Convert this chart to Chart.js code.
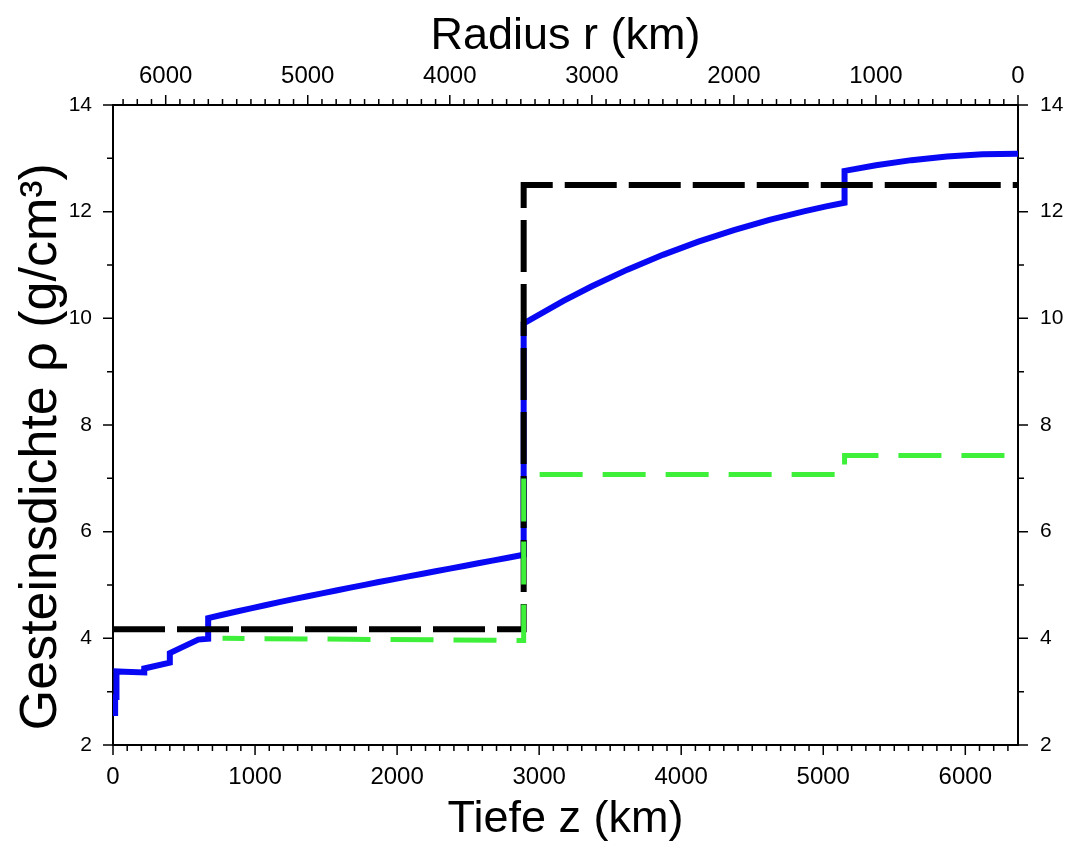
<!DOCTYPE html>
<html>
<head>
<meta charset="utf-8">
<title>Gesteinsdichte</title>
<script src="https://cdn.jsdelivr.net/npm/chart.js@4.4.1/dist/chart.umd.min.js"></script>
<style>
  html, body { margin: 0; padding: 0; background: #fff; }
  canvas { display: block; }
</style>
</head>
<body>
<canvas id="c" width="1074" height="841"></canvas>
<script>
// PREM density (blue)
const premDepth = [0, 15, 15, 24.4, 24.4, 80, 220, 220, 400, 400, 600, 670, 670,
  771, 871, 971, 1071, 1171, 1271, 1371, 1471, 1571, 1671, 1771, 1871, 1971, 2071,
  2171, 2271, 2371, 2471, 2571, 2671, 2771, 2891, 2891, 3171, 3371, 3621,
  3871, 4121, 4371, 4621, 4871, 5021, 5150, 5150, 5371, 5621, 5871, 6121, 6371];
const premRho = [2.6, 2.6, 2.9, 2.9, 3.38, 3.375, 3.36, 3.435, 3.543, 3.724, 3.976, 3.992, 4.381,
  4.443, 4.504, 4.563, 4.621, 4.678, 4.735, 4.790, 4.844, 4.898, 4.951, 5.003, 5.055, 5.106, 5.157,
  5.207, 5.257, 5.307, 5.357, 5.407, 5.457, 5.506, 5.566, 9.903, 10.327, 10.602, 10.913,
  11.191, 11.437, 11.655, 11.845, 12.010, 12.098, 12.166, 12.764, 12.871, 12.966, 13.034, 13.075, 13.088];

// two-layer model (black dashed)
const twoLayerDepth = [0, 2891, 2891, 6371];
const twoLayerRho = [4.17, 4.17, 12.5, 12.5];

// green dashed
const greenDepth = [771, 2891, 2891, 5150, 5150, 6371];
const greenRho = [4.0, 3.96, 7.07, 7.07, 7.43, 7.43];

const depthTicks = [0, 1000, 2000, 3000, 4000, 5000, 6000];
const radiusTicks = [6000, 5000, 4000, 3000, 2000, 1000, 0];
const rhoTicks = [2, 4, 6, 8, 10, 12, 14];

const R_EARTH = 6371;
const FONT = '"Liberation Sans", Arial, Helvetica, sans-serif';

function pts(xs, ys) {
  return xs.map((x, i) => ({ x: x, y: ys[i] }));
}

// outward tick marks, major + minor
const tickMarks = {
  id: 'tickMarks',
  afterDraw(chart) {
    const ctx = chart.ctx;
    const s = chart.scales;
    const a = chart.chartArea;
    ctx.save();
    ctx.strokeStyle = '#000';
    ctx.lineWidth = 1.5;
    ctx.beginPath();
    for (let d = 0; d <= R_EARTH; d += 100) {
      const px = s.x.getPixelForValue(d);
      const len = d % 1000 === 0 ? 10 : 6;
      ctx.moveTo(px, a.bottom); ctx.lineTo(px, a.bottom + len);
    }
    for (let r = 0; r <= R_EARTH; r += 100) {
      const px = s.x2.getPixelForValue(R_EARTH - r);
      const len = r % 1000 === 0 ? 10 : 6;
      ctx.moveTo(px, a.top); ctx.lineTo(px, a.top - len);
    }
    for (let v = 2; v <= 14; v += 1) {
      const py = s.y.getPixelForValue(v);
      const len = v % 2 === 0 ? 10 : 6;
      ctx.moveTo(a.left, py); ctx.lineTo(a.left - len, py);
      ctx.moveTo(a.right, py); ctx.lineTo(a.right + len, py);
    }
    ctx.stroke();
    ctx.restore();
  }
};

const xTickFont = { family: FONT, size: 24 };
const yTickFont = { family: FONT, size: 21 };
const xTitleFont = { family: FONT, size: 45 };
const yTitleFont = { family: FONT, size: 52 };

new Chart(document.getElementById('c'), {
  type: 'line',
  data: {
    datasets: [
      {
        label: 'green', data: pts(greenDepth, greenRho),
        borderColor: '#3ef03a', borderWidth: 5, borderDash: [43, 20], borderDashOffset: 21,
        pointRadius: 0, order: 0, xAxisID: 'x', yAxisID: 'y'
      },
      {
        label: 'two-layer', data: pts(twoLayerDepth, twoLayerRho),
        borderColor: '#000', borderWidth: 6, borderDash: [52, 12],
        pointRadius: 0, order: 1, xAxisID: 'x', yAxisID: 'y'
      },
      {
        label: 'PREM', data: pts(premDepth, premRho),
        borderColor: '#0808f4', borderWidth: 6,
        pointRadius: 0, order: 2, xAxisID: 'x', yAxisID: 'y'
      }
    ]
  },
  options: {
    responsive: false,
    animation: false,
    devicePixelRatio: 1,
    layout: { padding: 0 },
    plugins: { legend: { display: false }, tooltip: { enabled: false } },
    elements: { line: { tension: 0, borderCapStyle: 'butt', borderJoinStyle: 'miter' } },
    scales: {
      x: {
        type: 'linear', position: 'bottom', min: 0, max: R_EARTH,
        afterBuildTicks: sc => { sc.ticks = depthTicks.map(v => ({ value: v })); },
        afterFit: sc => { sc.height = 96; },
        ticks: { font: xTickFont, color: '#000', padding: 18, maxRotation: 0, autoSkip: false,
          callback: v => String(v) },
        grid: { display: false, drawTicks: false },
        border: { display: true, color: '#000', width: 2 },
        title: { display: true, text: 'Tiefe z (km)', font: xTitleFont, color: '#000', padding: { top: 0, bottom: -6 } }
      },
      x2: {
        type: 'linear', position: 'top', min: 0, max: R_EARTH,
        afterBuildTicks: sc => { sc.ticks = radiusTicks.map(r => ({ value: R_EARTH - r })); },
        afterFit: sc => { sc.height = 105; },
        ticks: { font: xTickFont, color: '#000', padding: 14, maxRotation: 0, autoSkip: false,
          callback: v => String(Math.round(R_EARTH - v)) },
        grid: { display: false, drawTicks: false },
        border: { display: true, color: '#000', width: 2 },
        title: { display: true, text: 'Radius r (km)', font: xTitleFont, color: '#000', padding: { top: 10, bottom: 0 } }
      },
      y: {
        type: 'linear', position: 'left', min: 2, max: 14,
        afterBuildTicks: sc => { sc.ticks = rhoTicks.map(v => ({ value: v })); },
        afterFit: sc => { sc.width = 113; },
        ticks: { font: yTickFont, color: '#000', padding: 21, autoSkip: false, callback: v => String(v) },
        grid: { display: false, drawTicks: false },
        border: { display: true, color: '#000', width: 2 },
        title: { display: true, text: 'Gesteinsdichte ρ (g/cm³)\u00a0\u00a0\u00a0', font: yTitleFont, color: '#000', padding: { top: 10, bottom: 0 } }
      },
      y2: {
        type: 'linear', position: 'right', min: 2, max: 14,
        afterBuildTicks: sc => { sc.ticks = rhoTicks.map(v => ({ value: v })); },
        afterFit: sc => { sc.width = 56; },
        ticks: { font: yTickFont, color: '#000', padding: 22, autoSkip: false, callback: v => String(v) },
        grid: { display: false, drawTicks: false },
        border: { display: true, color: '#000', width: 2 }
      }
    }
  },
  plugins: [tickMarks]
});
</script>
</body>
</html>
